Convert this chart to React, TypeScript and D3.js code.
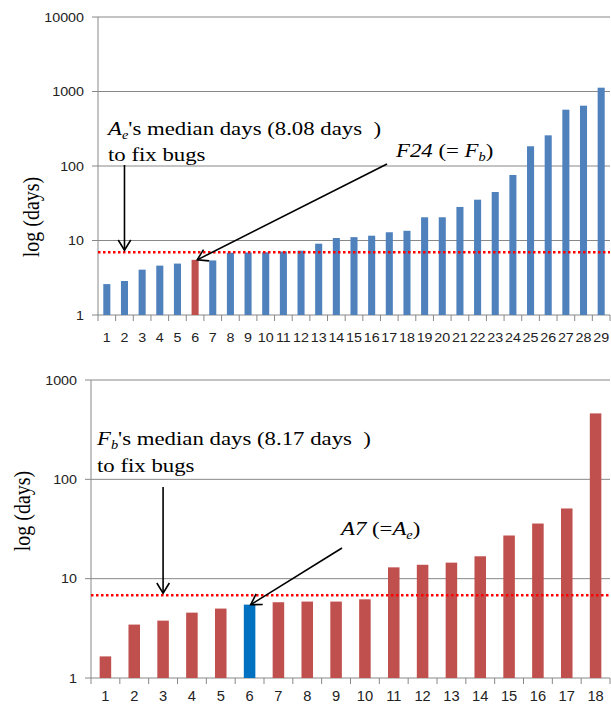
import React from "react";
import * as d3 from "d3";

// ---- data ----
const topCategories = ["1","2","3","4","5","6","7","8","9","10","11","12","13","14","15","16","17","18","19","20","21","22","23","24","25","26","27","28","29"];
const topValues = [2.6, 2.86, 4.06, 4.6, 4.9, 5.5, 5.4, 6.86, 6.9, 6.95, 7.1, 7.3, 9.06, 10.8, 11.1, 11.6, 12.9, 13.5, 20.5, 20.5, 28.2, 35.3, 44.8, 75.7, 184, 258, 570, 645, 1125];
const topHighlight = "6";
const topMedianLine = 6.95;
const topTicks = [1, 10, 100, 1000, 10000];
const topArrowCategory = "2";

const bottomCategories = ["1","2","3","4","5","6","7","8","9","10","11","12","13","14","15","16","17","18"];
const bottomValues = [1.65, 3.45, 3.78, 4.55, 5.0, 5.48, 5.79, 5.88, 5.88, 6.2, 13.0, 13.8, 14.5, 16.8, 27.2, 35.9, 50.9, 461];
const bottomHighlight = "6";
const bottomMedianLine = 6.81;
const bottomTicks = [1, 10, 100, 1000];
const bottomArrowCategory = "3";

const BLUE = "#4F81BD";
const RED = "#C0504D";
const BRIGHT_BLUE = "#0070C0";
const GRID = "#888888";
const SERIF = "'Liberation Serif', 'Times New Roman', serif";
const SANS = "'Liberation Sans', Arial, sans-serif";
const SX = 1.2; // horizontal stretch of serif text
const SERIF_SIZE = 19;

function ArrowHead({ x, y, angle }: { x: number; y: number; angle: number }) {
  const len = 12;
  const spread = 0.55;
  const a1 = angle + Math.PI - spread;
  const a2 = angle + Math.PI + spread;
  return (
    <path
      d={`M${x + len * Math.cos(a1)},${y + len * Math.sin(a1)} L${x},${y} L${x + len * Math.cos(a2)},${y + len * Math.sin(a2)}`}
      fill="none"
      stroke="#000"
      strokeWidth={1.6}
    />
  );
}

function Arrow({ x1, y1, x2, y2 }: { x1: number; y1: number; x2: number; y2: number }) {
  const ang = Math.atan2(y2 - y1, x2 - x1);
  return (
    <g>
      <line x1={x1} y1={y1} x2={x2} y2={y2} stroke="#000" strokeWidth={1.6} />
      <ArrowHead x={x2} y={y2} angle={ang} />
    </g>
  );
}

type PanelProps = {
  categories: string[];
  values: number[];
  highlight: string;
  baseColor: string;
  highlightColor: string;
  median: number;
  ticks: number[];
  left: number;
  right: number;
  top: number;
  bottom: number;
  xLabelY: number;
  xLabelSize: number;
  xLabelSx: number;
  yLabelSize: number;
};

function Panel(p: PanelProps) {
  const x = d3.scaleBand<string>().domain(p.categories).range([p.left, p.right]).paddingInner(0.6).paddingOuter(0.3);
  const y = d3.scaleLog().domain([p.ticks[0], p.ticks[p.ticks.length - 1]]).range([p.bottom, p.top]);
  const step = x.step();
  const bw = x.bandwidth();
  const start = x(p.categories[0])! - step * 0.3;
  return (
    <g>
      {p.ticks.slice(1).map((t) => (
        <line key={"g" + t} x1={p.left} x2={p.right} y1={y(t)} y2={y(t)} stroke={GRID} strokeWidth={1} />
      ))}
      <line x1={p.left} x2={p.left} y1={p.top} y2={p.bottom} stroke={GRID} strokeWidth={1} />
      <line x1={p.left} x2={p.right} y1={p.bottom} y2={p.bottom} stroke={GRID} strokeWidth={1} />
      {p.ticks.map((t) => (
        <g key={"t" + t}>
          <line x1={p.left - 6} x2={p.left} y1={y(t)} y2={y(t)} stroke={GRID} />
          <text
            transform={`translate(${p.left - 14},${y(t)}) scale(1.1,1)`}
            textAnchor="end"
            dy="0.36em"
            fontFamily={SANS}
            fontSize={p.yLabelSize}
            fill="#222"
          >
            {t}
          </text>
        </g>
      ))}
      {d3.range(p.categories.length + 1).map((i) => (
        <line key={"xt" + i} x1={start + i * step} x2={start + i * step} y1={p.bottom} y2={p.bottom + 6} stroke={GRID} />
      ))}
      {p.categories.map((c, i) => (
        <rect
          key={"b" + c}
          x={x(c)!}
          width={bw}
          y={y(p.values[i])}
          height={p.bottom - y(p.values[i])}
          fill={c === p.highlight ? p.highlightColor : p.baseColor}
        />
      ))}
      {p.categories.map((c) => (
        <text
          key={"xl" + c}
          transform={`translate(${x(c)! + bw / 2},${p.xLabelY}) scale(${p.xLabelSx},1)`}
          textAnchor="middle"
          fontFamily={SANS}
          fontSize={p.xLabelSize}
          fill="#222"
        >
          {c}
        </text>
      ))}
      <line
        x1={p.left}
        x2={p.right}
        y1={y(p.median)}
        y2={y(p.median)}
        stroke="#FF0000"
        strokeWidth={2.5}
        strokeDasharray="2.5,2.5"
      />
    </g>
  );
}

export default function App() {
  const tL = 98, tR = 610, tT = 17, tB = 315;
  const bL = 91, bR = 610, bT = 380, bB = 678;

  const xTop = d3.scaleBand<string>().domain(topCategories).range([tL, tR]).paddingInner(0.6).paddingOuter(0.3);
  const yTop = d3.scaleLog().domain([1, 10000]).range([tB, tT]);
  const xBot = d3.scaleBand<string>().domain(bottomCategories).range([bL, bR]).paddingInner(0.6).paddingOuter(0.3);
  const yBot = d3.scaleLog().domain([1, 1000]).range([bB, bT]);

  const topHiIdx = topCategories.indexOf(topHighlight);
  const botHiIdx = bottomCategories.indexOf(bottomHighlight);

  const tArrowX = xTop(topArrowCategory)! + xTop.bandwidth() / 2;
  const bArrowX = xBot(bottomArrowCategory)! + xBot.bandwidth() / 2;
  const tHiX = xTop(topHighlight)! + xTop.bandwidth() * 0.8;
  const tHiY = yTop(topValues[topHiIdx]);
  const bHiX = xBot(bottomHighlight)! + xBot.bandwidth() * 0.6;
  const bHiY = yBot(bottomValues[botHiIdx]);

  const serif = { fontFamily: SERIF, fontSize: SERIF_SIZE, fill: "#000" } as const;

  return (
    <svg width={611} height={705} style={{ position: "absolute", left: 0, top: 0, background: "#fff" }}>
      <rect width={611} height={705} fill="#fff" />
      <Panel
        categories={topCategories}
        values={topValues}
        highlight={topHighlight}
        baseColor={BLUE}
        highlightColor={RED}
        median={topMedianLine}
        ticks={topTicks}
        left={tL}
        right={tR}
        top={tT}
        bottom={tB}
        xLabelY={342}
        xLabelSize={13}
        xLabelSx={1.1}
        yLabelSize={13}
      />
      <Panel
        categories={bottomCategories}
        values={bottomValues}
        highlight={bottomHighlight}
        baseColor={RED}
        highlightColor={BRIGHT_BLUE}
        median={bottomMedianLine}
        ticks={bottomTicks}
        left={bL}
        right={bR}
        top={bT}
        bottom={bB}
        xLabelY={701}
        xLabelSize={14}
        xLabelSx={1.05}
        yLabelSize={13}
      />

      {/* y axis titles */}
      <text transform={`translate(39,217) rotate(-90) scale(1,1.2)`} textAnchor="middle" fontFamily={SERIF} fontSize={20}>
        log (days)
      </text>
      <text transform={`translate(30,511) rotate(-90) scale(1,1.2)`} textAnchor="middle" fontFamily={SERIF} fontSize={20}>
        log (days)
      </text>

      {/* top annotations */}
      <text transform={`translate(108,135) scale(${SX},1)`} {...serif} style={{ whiteSpace: "pre" }}>
        <tspan fontStyle="italic">A</tspan>
        <tspan fontStyle="italic" fontSize={12} dy={4}>e</tspan>
        <tspan dy={-4}>{"'s median days (8.08 days  )"}</tspan>
      </text>
      <text transform={`translate(108,161) scale(${SX},1)`} {...serif}>
        to fix bugs
      </text>
      <Arrow x1={tArrowX} y1={165} x2={tArrowX} y2={yTop(topMedianLine) - 2} />
      <text transform={`translate(396,157) scale(${SX},1)`} {...serif} style={{ whiteSpace: "pre" }}>
        <tspan fontStyle="italic">F24</tspan>
        <tspan>{" (= "}</tspan>
        <tspan fontStyle="italic">F</tspan>
        <tspan fontStyle="italic" fontSize={12} dy={4}>b</tspan>
        <tspan dy={-4}>)</tspan>
      </text>
      <Arrow x1={387} y1={164} x2={tHiX} y2={tHiY} />

      {/* bottom annotations */}
      <text transform={`translate(97,445) scale(${SX},1)`} {...serif} style={{ whiteSpace: "pre" }}>
        <tspan fontStyle="italic">F</tspan>
        <tspan fontStyle="italic" fontSize={12} dy={4}>b</tspan>
        <tspan dy={-4}>{"'s median days (8.17 days  )"}</tspan>
      </text>
      <text transform={`translate(97,472) scale(${SX},1)`} {...serif}>
        to fix bugs
      </text>
      <Arrow x1={bArrowX} y1={487} x2={bArrowX} y2={yBot(bottomMedianLine) - 2} />
      <text transform={`translate(341,535) scale(${SX},1)`} {...serif} style={{ whiteSpace: "pre" }}>
        <tspan fontStyle="italic">A7</tspan>
        <tspan>{" (="}</tspan>
        <tspan fontStyle="italic">A</tspan>
        <tspan fontStyle="italic" fontSize={12} dy={4}>e</tspan>
        <tspan dy={-4}>)</tspan>
      </text>
      <Arrow x1={342} y1={548} x2={bHiX} y2={bHiY} />
    </svg>
  );
}
